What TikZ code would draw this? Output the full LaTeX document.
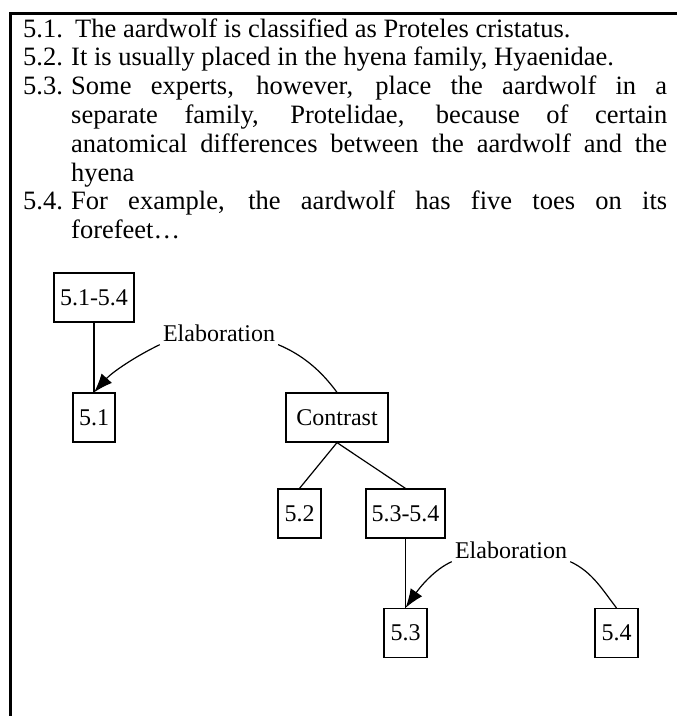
\documentclass[tikz,border=0pt]{standalone}
\usepackage{fontspec}
\setmainfont{Liberation Serif}
\usetikzlibrary{arrows.meta}
\begin{document}
\begin{tikzpicture}[x=1pt,y=1pt,
  box/.style={draw, line width=1.2pt, inner sep=0pt, minimum height=49pt,
    font=\fontsize{24}{27}\selectfont},
  lbl/.style={inner sep=3pt, font=\fontsize{24}{27}\selectfont},
  txt/.style={anchor=base west, inner sep=0pt, font=\fontsize{26.5}{29}\selectfont},
  conn/.style={line width=1.2pt},
  arr/.style={conn, -{Latex[length=19pt,width=14pt]}}]
\useasboundingbox (0,0) rectangle (677,-716);
\fill[white] (0,0) rectangle (677,-716);
\draw[line width=3pt] (10,-716) -- (10,-13) -- (677,-13);
% text
\node[txt] (l1) at (23,-37) {\makebox[52pt][l]{5.1.}The aardwolf is classified as Proteles cristatus.};
\node[txt] (l2) at (23,-65.8) {\makebox[48pt][l]{5.2.}It is usually placed in the hyena family, Hyaenidae.};
\node[txt] (l3) at (23,-94.6) {\makebox[48pt][l]{5.3.}\makebox[596pt][s]{Some experts, however, place the aardwolf in a}};
\node[txt] (l4) at (71,-123.4) {\makebox[596pt][s]{separate family, Protelidae, because of certain}};
\node[txt] (l5) at (71,-152.2) {\makebox[596pt][s]{anatomical differences between the aardwolf and the}};
\node[txt] (l6) at (71,-181) {hyena};
\node[txt] (l7) at (23,-209.8) {\makebox[48pt][l]{5.4.}\makebox[596pt][s]{For example, the aardwolf has five toes on its}};
\node[txt] (l8) at (71,-238.6) {forefeet\ldots};
% diagram
\node[box, minimum width=80pt] (a) at (94,-297.5) {5.1-5.4};
\node[box, minimum width=42pt] (b) at (94,-417.5) {5.1};
\node[box, minimum width=102pt] (c) at (337,-417.5) {Contrast};
\node[box, minimum width=43pt] (d) at (299.5,-513.5) {5.2};
\node[box, minimum width=79pt] (e) at (405.5,-513.5) {5.3-5.4};
\node[box, minimum width=43pt] (f) at (405.5,-633) {5.3};
\node[box, minimum width=43pt] (g) at (616.5,-633) {5.4};
\node[lbl] (el1) at (219,-333) {Elaboration};
\node[lbl] (el2) at (511,-550) {Elaboration};
% connectors
\draw[conn] (a.south) -- (b.north);
\draw[arr] (el1.south west) .. controls +(-25,-12) and +(18,20) .. (b.north);
\draw[conn] (el1.south east) .. controls +(24,-10) and +(-16,22) .. (c.north);
\draw[conn] (c.south) -- (d.north);
\draw[conn] (c.south) -- (e.north);
\draw[conn] (e.south) -- (f.north);
\draw[arr] (el2.south west) .. controls +(-18,-8) and +(14,20) .. (f.north);
\draw[conn] (el2.south east) .. controls +(22,-10) and +(-14,18) .. (g.north);
\end{tikzpicture}
\end{document}
